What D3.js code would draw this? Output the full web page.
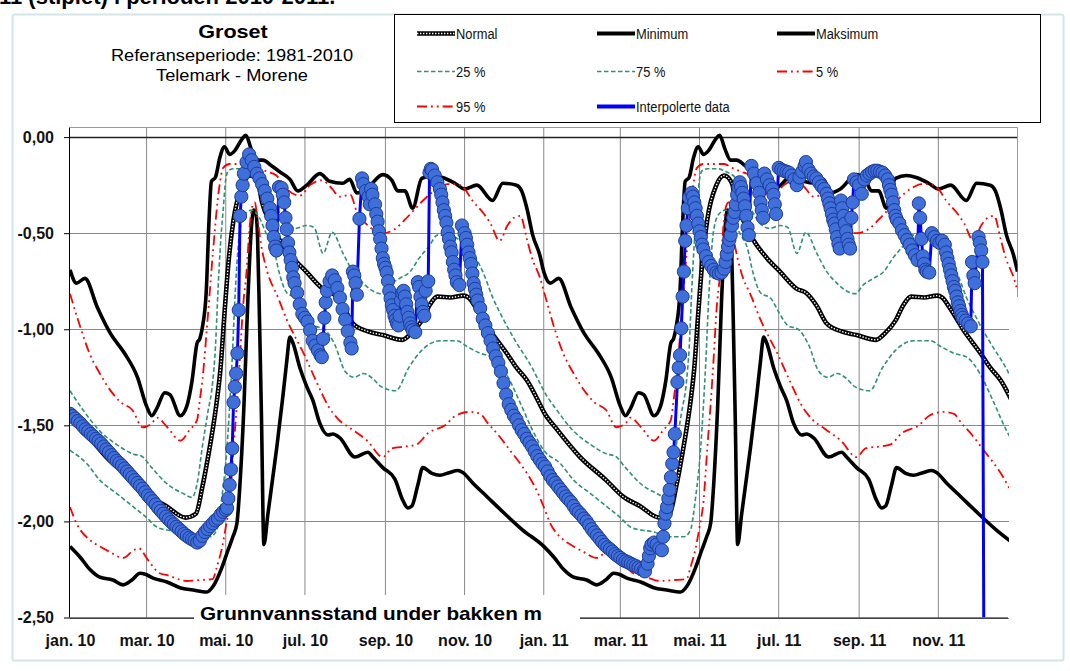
<!DOCTYPE html>
<html><head><meta charset="utf-8">
<script src="https://cdn.jsdelivr.net/npm/d3@7"></script>
<style>
body{margin:0;background:#fff}
svg{display:block}
text{font-family:'Liberation Sans',Arial,sans-serif}
</style>
</head><body>
<svg id="chart" width="1070" height="671"></svg>
<script>
// ---------------- DATA (day offsets from 1 Jan 2010; reference curves are day-of-year, repeated each year) ----------------
const xTickLabels = ["jan. 10","mar. 10","mai. 10","jul. 10","sep. 10","nov. 10","jan. 11","mar. 11","mai. 11","jul. 11","sep. 11","nov. 11"];
const xTickMonths = [0,2,4,6,8,10,12,14,16,18,20,22];
const yTicks = [0,-0.5,-1,-1.5,-2,-2.5];
const yTickLabels = ["0,00","-0,50","-1,00","-1,50","-2,00","-2,50"];

const normalDays = [0,10,28,48,61,74,89,97,102,107,110,113,116,119,122,126,133,139,145,148,155,161,172,182,195,202,210,218,229,241,256,263,271,277,283,293,303,307,313,323,337,344,352,362,365];
const normalVals = [-1.43,-1.52,-1.665,-1.785,-1.87,-1.92,-1.98,-1.96,-1.82,-1.64,-1.52,-1.38,-1.2,-0.92,-0.66,-0.43,-0.25,-0.2,-0.24,-0.34,-0.45,-0.53,-0.63,-0.7,-0.79,-0.81,-0.875,-0.97,-1.01,-1.03,-1.055,-1.02,-0.955,-0.875,-0.83,-0.835,-0.825,-0.835,-0.89,-1.0,-1.13,-1.2,-1.265,-1.39,-1.43];

const maxDays = [0,5,11.5,21,31,42,52,59,63,67,73,77,85,90,94,98,100,102,105,107,109,112,115.5,119,123,127,132.5,135.5,139.5,144,148.5,155.5,161.5,169.5,175.5,182.5,192.5,200,210,215.5,221,228.5,241,248,252.5,258,264,271,279.5,287,296.5,304,313.5,325.5,333.5,344,348,352,356.5,362,365];
const maxVals = [-0.69,-0.76,-0.735,-0.885,-1.02,-1.125,-1.25,-1.4,-1.45,-1.41,-1.33,-1.34,-1.45,-1.4,-1.27,-1.07,-1.05,-0.99,-0.8,-0.45,-0.23,-0.21,-0.105,-0.05,-0.09,-0.07,-0.01,0.01,-0.06,-0.12,-0.12,-0.15,-0.18,-0.22,-0.28,-0.25,-0.19,-0.23,-0.24,-0.22,-0.29,-0.27,-0.195,-0.225,-0.28,-0.28,-0.37,-0.215,-0.2,-0.21,-0.24,-0.27,-0.25,-0.33,-0.24,-0.25,-0.28,-0.37,-0.51,-0.615,-0.7];

const minDays = [0,7.7,15.4,23,33,41,47.7,54,58,64,74.7,84.7,94.7,105.5,110,117,121.7,125.5,128.6,131,134,137,140,141.5,143,144.5,146,147.5,149.4,152.5,159.4,164,167.1,169.4,171.7,177.1,182.5,187.1,192.5,198.7,202.5,207.9,219.5,229.5,233.3,241,250.3,256.4,260.3,263.4,268,271.8,278.8,284.9,292.6,298.8,302.6,310.3,321.1,335,348.8,365];
const minVals = [-2.13,-2.185,-2.25,-2.29,-2.305,-2.33,-2.305,-2.27,-2.275,-2.295,-2.315,-2.345,-2.357,-2.367,-2.34,-2.24,-2.15,-2.08,-2.01,-1.8,-1.4,-0.85,-0.45,-0.38,-0.39,-0.52,-0.95,-1.45,-2.12,-1.96,-1.61,-1.35,-1.16,-1.04,-1.07,-1.2,-1.3,-1.37,-1.49,-1.55,-1.545,-1.565,-1.665,-1.64,-1.665,-1.72,-1.78,-1.89,-1.93,-1.92,-1.81,-1.72,-1.75,-1.76,-1.745,-1.735,-1.745,-1.8,-1.87,-1.96,-2.045,-2.13];

const p75Days = [0,10,23,36,49,55,63,74,80,86,94,98,102,106,110,112,114,116,118,120,122,126,134,142,148,155,161,166,174,182,188,195,202,210,218,225,240,246,254,262,269,277,283,290,300,310,318,326,334,344,356,362,365];
const p75Vals = [-1.32,-1.42,-1.53,-1.6,-1.65,-1.66,-1.72,-1.8,-1.83,-1.85,-1.875,-1.8,-1.61,-1.44,-1.27,-1.1,-0.8,-0.55,-0.38,-0.22,-0.175,-0.165,-0.165,-0.185,-0.215,-0.32,-0.39,-0.445,-0.475,-0.46,-0.47,-0.605,-0.495,-0.6,-0.7,-0.755,-0.815,-0.77,-0.735,-0.7,-0.63,-0.565,-0.51,-0.51,-0.535,-0.6,-0.7,-0.84,-0.95,-1.07,-1.2,-1.28,-1.32];

const p25Days = [0,13,23,36,49,59,67,75,85,95,108,113,117,121,123,125,127,129,131,135,140,146,151,157,161,167,175,181,188,196,204,212,219,226,233,240,251,261,271,285,298,306,316,326,336,346,356,365];
const p25Vals = [-1.63,-1.7,-1.785,-1.855,-1.925,-1.98,-2.03,-2.045,-2.055,-2.08,-2.08,-2.045,-1.875,-1.61,-1.4,-1.15,-0.85,-0.62,-0.48,-0.4,-0.38,-0.42,-0.5,-0.58,-0.7,-0.81,-0.84,-0.91,-0.98,-1.0,-1.08,-1.22,-1.25,-1.23,-1.255,-1.3,-1.32,-1.2,-1.11,-1.06,-1.06,-1.09,-1.125,-1.145,-1.23,-1.37,-1.52,-1.63];

const p95Days = [0,8,15,23,33,39,48,56,63,67,75,85,92,98,100,102,106,110,115,118,123,139,145,152,159,167,177,185,193,198,202,208,216,221,228,241,250,258,265,272,285,291,298,304,310,319,324,331,337,342,347,352,356,362,365];
const p95Vals = [-0.815,-0.99,-1.125,-1.23,-1.335,-1.38,-1.42,-1.51,-1.49,-1.46,-1.51,-1.58,-1.525,-1.47,-1.37,-1.265,-0.95,-0.61,-0.26,-0.16,-0.14,-0.14,-0.16,-0.18,-0.2,-0.27,-0.305,-0.25,-0.225,-0.24,-0.27,-0.31,-0.3,-0.39,-0.45,-0.5,-0.48,-0.43,-0.38,-0.33,-0.26,-0.245,-0.245,-0.27,-0.33,-0.4,-0.45,-0.54,-0.46,-0.42,-0.41,-0.53,-0.63,-0.73,-0.8];

const p5Days = [0,5,15,23,31,41,49,53,60,69,75,90,100,110,113,117,120,123,126,129,131,133,136,138.5,140.5,142.5,144,147,152,160,167,175,180,185,191,199,207,217,229,241,248,259,267,276,289,297,308,316,322,330,339,347,354,362,365];
const p5Vals = [-1.925,-2.01,-2.095,-2.13,-2.16,-2.19,-2.15,-2.14,-2.2,-2.27,-2.28,-2.31,-2.305,-2.3,-2.24,-2.14,-2.03,-1.9,-1.62,-1.35,-1.14,-0.91,-0.7,-0.46,-0.36,-0.34,-0.4,-0.55,-0.7,-0.83,-0.95,-1.06,-1.125,-1.2,-1.29,-1.4,-1.47,-1.52,-1.58,-1.665,-1.62,-1.61,-1.6,-1.54,-1.5,-1.45,-1.43,-1.44,-1.49,-1.55,-1.63,-1.7,-1.77,-1.875,-1.925];

// Measured / interpolated groundwater level 2010-2011 (day offset, value)
const obsDays = [0,2,4,6,8,10,12,14,16,18,20,22,24,26,28,30,32,34,36,38,40,42,44,46,48,50,52,54,56,58,60,62,64,66,68,70,72,74,76,78,80,82,84,86,88,90,92,94,96,98,100,102,104,106,108,110,112,114,116,118,120,121,122,123,124,125,126,127,128,129,130,131,132,133,134,136,138,140,142,144,146,148,150,152,154,155,156,157,158,159,161,163,164,165,166,167,168,169,170,171,172,173,175,177,179,181,183,185,187,189,191,193,194,195,196,197,198,200,202,204,206,208,210,212,214,216,217,218,219,220,221,223,225,226,228,230,231,232,233,235,236,237,238,239,240,241,242,243,244,245,246,247,248,249,250,251,252,253,254,255,256,257,258,259,260,261,262,263,264,266,268,269,270,271,272,273,274,276,277,278,279,281,283,285,286,287,288,289,290,291,292,293,294,295,296,297,298,300,302,304,305,306,307,308,309,310,311,312,313,314,316,318,320,322,324,326,328,330,332,334,336,338,340,342,344,346,348,350,352,354,356,358,360,362,364,366,368,370,372,374,376,378,380,382,384,386,388,390,392,394,396,398,400,402,404,406,408,410,412,414,416,418,420,422,424,426,428,430,432,434,436,438,440,442,443,445,446,447,448,450,452,454,456,457,458,459,460,461,462,463,464,465,466,468,469,470,471,472,473,474,475,476,477,479,480,481,482,483,484,485,486,487,488,490,492,494,496,498,500,502,504,505,506,507,508,509,510,511,512,513,514,515,516,517,518,519,520,521,522,523,525,527,529,531,532,533,534,535,537,539,541,542,543,544,546,548,550,552,554,556,558,560,562,564,566,567,569,571,573,575,577,579,581,583,584,585,586,587,588,589,590,591,592,593,594,595,596,597,598,599,600,601,602,603,604,606,608,610,612,614,616,618,620,622,624,626,628,630,631,632,633,634,635,636,637,639,641,643,645,647,649,651,653,654,655,656,657,658,659,660,662,664,666,668,670,672,674,675,676,677,678,679,680,681,682,683,684,685,686,687,688,690,692,694,695,696,697,700,701,702,703,704];
const obsVals = [-1.44,-1.452,-1.465,-1.478,-1.49,-1.505,-1.52,-1.532,-1.545,-1.557,-1.57,-1.582,-1.595,-1.61,-1.625,-1.64,-1.655,-1.67,-1.685,-1.697,-1.71,-1.725,-1.74,-1.755,-1.77,-1.785,-1.8,-1.815,-1.83,-1.848,-1.865,-1.88,-1.895,-1.912,-1.93,-1.945,-1.96,-1.975,-1.99,-2.003,-2.015,-2.028,-2.04,-2.052,-2.065,-2.075,-2.085,-2.093,-2.1,-2.11,-2.1,-2.075,-2.055,-2.04,-2.025,-2.01,-1.995,-1.985,-1.965,-1.95,-1.94,-1.93,-1.88,-1.81,-1.73,-1.62,-1.38,-1.3,-1.23,-1.125,-0.9,-0.41,-0.31,-0.25,-0.19,-0.13,-0.09,-0.12,-0.155,-0.19,-0.215,-0.245,-0.28,-0.32,-0.37,-0.41,-0.46,-0.52,-0.57,-0.59,-0.26,-0.265,-0.3,-0.34,-0.42,-0.48,-0.55,-0.6,-0.64,-0.68,-0.73,-0.76,-0.81,-0.87,-0.92,-0.94,-0.96,-1.005,-1.06,-1.085,-1.11,-1.135,-1.145,-1.05,-0.94,-0.86,-0.8,-0.75,-0.72,-0.745,-0.785,-0.835,-0.895,-0.95,-1.01,-1.07,-1.1,-0.7,-0.72,-0.76,-0.82,-0.425,-0.215,-0.245,-0.28,-0.31,-0.35,-0.27,-0.3,-0.35,-0.4,-0.44,-0.49,-0.53,-0.58,-0.63,-0.66,-0.68,-0.705,-0.75,-0.8,-0.84,-0.875,-0.9,-0.93,-0.95,-0.97,-0.98,-0.93,-0.85,-0.81,-0.8,-0.83,-0.87,-0.91,-0.94,-0.97,-0.99,-1.005,-1.015,-0.755,-0.78,-0.83,-0.87,-0.91,-0.93,-0.8,-0.75,-0.185,-0.165,-0.17,-0.2,-0.235,-0.27,-0.3,-0.34,-0.38,-0.41,-0.445,-0.495,-0.53,-0.57,-0.6,-0.65,-0.69,-0.72,-0.755,-0.77,-0.46,-0.5,-0.525,-0.56,-0.6,-0.63,-0.66,-0.71,-0.76,-0.79,-0.82,-0.85,-0.89,-0.945,-0.98,-1.02,-1.06,-1.1,-1.14,-1.175,-1.22,-1.28,-1.34,-1.39,-1.42,-1.45,-1.47,-1.5,-1.525,-1.545,-1.57,-1.59,-1.61,-1.635,-1.66,-1.68,-1.7,-1.715,-1.74,-1.765,-1.785,-1.8,-1.818,-1.835,-1.852,-1.87,-1.885,-1.9,-1.92,-1.94,-1.953,-1.968,-1.985,-2.0,-2.02,-2.04,-2.057,-2.073,-2.09,-2.107,-2.122,-2.135,-2.145,-2.157,-2.17,-2.18,-2.19,-2.2,-2.207,-2.213,-2.22,-2.227,-2.233,-2.24,-2.247,-2.255,-2.26,-2.22,-2.18,-2.14,-2.12,-2.11,-2.12,-2.14,-2.15,-2.08,-2.01,-1.96,-1.925,-1.88,-1.835,-1.77,-1.7,-1.64,-1.545,-1.275,-1.2,-1.135,-0.995,-0.83,-0.7,-0.54,-0.46,-0.37,-0.315,-0.29,-0.31,-0.34,-0.37,-0.41,-0.45,-0.49,-0.52,-0.56,-0.585,-0.62,-0.65,-0.67,-0.69,-0.705,-0.71,-0.705,-0.685,-0.65,-0.61,-0.57,-0.535,-0.51,-0.46,-0.42,-0.39,-0.35,-0.3,-0.26,-0.235,-0.26,-0.29,-0.32,-0.36,-0.41,-0.47,-0.51,-0.15,-0.19,-0.24,-0.29,-0.34,-0.38,-0.42,-0.19,-0.22,-0.25,-0.27,-0.3,-0.35,-0.4,-0.16,-0.17,-0.175,-0.18,-0.185,-0.2,-0.22,-0.25,-0.21,-0.18,-0.15,-0.13,-0.17,-0.19,-0.205,-0.215,-0.235,-0.255,-0.27,-0.295,-0.32,-0.345,-0.37,-0.4,-0.43,-0.45,-0.48,-0.52,-0.555,-0.58,-0.33,-0.37,-0.41,-0.45,-0.49,-0.53,-0.56,-0.58,-0.42,-0.34,-0.22,-0.235,-0.25,-0.295,-0.22,-0.2,-0.19,-0.18,-0.175,-0.175,-0.18,-0.185,-0.2,-0.22,-0.25,-0.275,-0.3,-0.34,-0.38,-0.41,-0.43,-0.45,-0.485,-0.51,-0.535,-0.56,-0.59,-0.615,-0.64,-0.345,-0.42,-0.53,-0.62,-0.66,-0.69,-0.7,-0.705,-0.5,-0.52,-0.54,-0.55,-0.54,-0.56,-0.6,-0.63,-0.66,-0.69,-0.72,-0.75,-0.78,-0.8,-0.83,-0.86,-0.88,-0.905,-0.925,-0.94,-0.955,-0.97,-0.985,-0.65,-0.72,-0.76,-0.52,-0.55,-0.59,-0.65,-2.5];

// ---------------- CHART ----------------
const svg = d3.select("#chart");
const T0 = Date.UTC(2010,0,1);
const toDate = d => new Date(T0 + d*86400000);
const x = d3.scaleUtc().domain([new Date(T0), new Date(Date.UTC(2012,0,1))]).range([70,1017.5]);
const y = d3.scaleLinear().domain([-2.5,0.05]).range([617.5,127.5]);
const L = 70, R = 1017.5, TOP = 127.5, BOT = 617.5;

svg.append("rect").attr("width",1070).attr("height",671).attr("fill","#fff");

// document text cut off at top edge (as in the reference screenshot)
svg.append("text").attr("x",-1).attr("y",4).attr("font-family","'Liberation Serif',serif")
  .attr("font-weight","bold").attr("font-size",22).attr("fill","#000")
  .text("11 (stiplet) i perioden 2010-2011.");

// chart frame
svg.append("rect").attr("x",12.5).attr("y",14.5).attr("width",1051).attr("height",646)
  .attr("fill","none").attr("stroke","#d4e6e6").attr("stroke-width",2).attr("rx",2);

// grid
const grid = svg.append("g");
const monthDates = xTickMonths.map(m => new Date(Date.UTC(2010, m, 1)));
grid.selectAll("line.v").data(monthDates.slice(1)).join("line")
  .attr("x1",d=>x(d)).attr("x2",d=>x(d)).attr("y1",TOP).attr("y2",BOT)
  .attr("stroke","#8a8a8a").attr("stroke-width",1);
grid.selectAll("line.h").data(yTicks).join("line")
  .attr("x1",L).attr("x2",R).attr("y1",d=>Math.round(y(d))+0.5).attr("y2",d=>Math.round(y(d))+0.5)
  .attr("stroke",d=>d===0?"#222":"#8a8a8a").attr("stroke-width",d=>d===0?1.6:1);
grid.append("line").attr("x1",L).attr("x2",R).attr("y1",TOP).attr("y2",TOP).attr("stroke","#9a9a9a");
grid.append("line").attr("x1",R).attr("x2",R).attr("y1",TOP).attr("y2",BOT).attr("stroke","#9a9a9a");

// clip
svg.append("clipPath").attr("id","clip").append("rect").attr("x",L).attr("y",TOP-10).attr("width",R-L).attr("height",BOT-TOP+10);

const plot = svg.append("g").attr("clip-path","url(#clip)");
function yearly(days, vals){
  const out=[];
  [0,1].forEach(k=>days.forEach((d,i)=>{ if(k===1&&i===0) return; out.push({date:toDate(d+365*k), v:vals[i]}); }));
  return out;
}
const lineC = d3.line().x(p=>x(p.date)).y(p=>y(p.v)).curve(d3.curveMonotoneX);
const lineL = d3.line().x(p=>x(p.date)).y(p=>y(p.v));

const normal = yearly(normalDays, normalVals);
plot.append("path").attr("d",lineC(normal)).attr("fill","none").attr("stroke","#000").attr("stroke-width",4.6);
plot.append("path").attr("d",lineC(normal)).attr("fill","none").attr("stroke","#fff").attr("stroke-width",1.4).attr("stroke-dasharray","1.4,1.6");
plot.append("path").attr("d",lineC(yearly(minDays,minVals))).attr("fill","none").attr("stroke","#000").attr("stroke-width",3.6).attr("stroke-linejoin","round");
plot.append("path").attr("d",lineC(yearly(maxDays,maxVals))).attr("fill","none").attr("stroke","#000").attr("stroke-width",3.6).attr("stroke-linejoin","round");
const green = "#2f9270", red = "#ff0000";
[[p25Days,p25Vals],[p75Days,p75Vals]].forEach(([d,v])=>
  plot.append("path").attr("d",lineC(yearly(d,v))).attr("fill","none").attr("stroke",green).attr("stroke-width",1.6).attr("stroke-dasharray","4.5,2.5"));
[[p5Days,p5Vals],[p95Days,p95Vals]].forEach(([d,v])=>
  plot.append("path").attr("d",lineC(yearly(d,v))).attr("fill","none").attr("stroke",red).attr("stroke-width",1.8).attr("stroke-dasharray","10,4,1.8,4,1.8,4"));

// observed series
const obs = obsDays.map((d,i)=>({date:toDate(d), v:obsVals[i]}));
plot.append("path").attr("d",lineL(obs)).attr("fill","none").attr("stroke","#0000ff").attr("stroke-width",3);
plot.selectAll("circle.m").data(obs.filter(p=>p.v>-2.5)).join("circle")
  .attr("cx",p=>x(p.date)).attr("cy",p=>y(p.v)).attr("r",6.6)
  .attr("fill","#3f6fd9").attr("stroke","#1e3c9c").attr("stroke-width",1);

// scan artifact: lower right of plot blanked
svg.append("rect").attr("x",1009).attr("y",297).attr("width",14).attr("height",330).attr("fill","#fff");

// y axis
const yAxis = svg.append("g").attr("transform",`translate(${L},0)`)
  .call(d3.axisLeft(y).tickValues(yTicks).tickSize(6).tickPadding(10).tickFormat((d,i)=>yTickLabels[i]));
yAxis.select(".domain").attr("stroke","#000").attr("d",`M-0.5,${TOP}V${BOT}`);
yAxis.selectAll(".tick line").attr("stroke","#000");
yAxis.selectAll("text").attr("font-size",16).attr("font-weight","bold").attr("fill","#111").attr("font-family","'Liberation Sans',Arial,sans-serif");

// x axis
const xAxis = svg.append("g").attr("transform",`translate(0,${BOT})`)
  .call(d3.axisBottom(x).tickValues(monthDates).tickSize(0).tickPadding(17).tickFormat((d,i)=>xTickLabels[i]));
xAxis.select(".domain").attr("stroke","#000").attr("d",`M${L},0.5H1008`);
xAxis.selectAll("text").attr("font-size",16).attr("font-weight","bold").attr("fill","#111").attr("font-family","'Liberation Sans',Arial,sans-serif");

// axis title box
svg.append("rect").attr("x",194).attr("y",595).attr("width",386).attr("height",28).attr("fill","#fff");
svg.append("text").attr("x",200).attr("y",620).attr("font-size",19).attr("font-weight","bold")
  .attr("textLength",342).attr("lengthAdjust","spacingAndGlyphs").text("Grunnvannsstand under bakken m");

// titles
function stretched(t, cx, cy, size, weight, sx){
  svg.append("text").attr("transform",`translate(${cx},${cy}) scale(${sx},1)`).attr("text-anchor","middle")
    .attr("font-size",size).attr("font-weight",weight).attr("fill","#000").text(t);
}
stretched("Groset",233,38,18,"bold",1.2);
stretched("Referanseperiode: 1981-2010",232,61,16,"normal",1.14);
stretched("Telemark - Morene",232,81,16,"normal",1.14);

// legend
const lg = svg.append("g");
lg.append("rect").attr("x",394.5).attr("y",14.5).attr("width",646).attr("height",108).attr("fill","#fff").attr("stroke","#000");
const legendItems = [
  {name:"Normal", col:0,row:0, type:"normal"},
  {name:"Minimum", col:1,row:0, type:"black"},
  {name:"Maksimum", col:2,row:0, type:"black"},
  {name:"25 %", col:0,row:1, type:"green"},
  {name:"75 %", col:1,row:1, type:"green"},
  {name:"5 %", col:2,row:1, type:"red"},
  {name:"95 %", col:0,row:2, type:"red"},
  {name:"Interpolerte data", col:1,row:2, type:"blue"}
];
const colX = [417,597,777], rowY = [33.5,71.5,106.5];
legendItems.forEach(it=>{
  const x0 = colX[it.col], yy = rowY[it.row], x1 = x0+38;
  const seg = () => lg.append("line").attr("x1",x0).attr("x2",x1).attr("y1",yy).attr("y2",yy).attr("fill","none");
  if(it.type==="normal"){ seg().attr("stroke","#000").attr("stroke-width",4.6); seg().attr("stroke","#fff").attr("stroke-width",1.4).attr("stroke-dasharray","1.4,1.6"); }
  if(it.type==="black") seg().attr("stroke","#000").attr("stroke-width",4);
  if(it.type==="green") seg().attr("stroke",green).attr("stroke-width",1.6).attr("stroke-dasharray","4.5,2.5");
  if(it.type==="red") seg().attr("stroke",red).attr("stroke-width",1.8).attr("stroke-dasharray","10,4,1.8,4,1.8,4");
  if(it.type==="blue") seg().attr("stroke","#0000ff").attr("stroke-width",4);
  lg.append("text").attr("transform",`translate(${x1+1},${yy+5}) scale(0.92,1)`).attr("font-size",14).attr("fill","#111").text(it.name);
});
</script>
</body></html>
